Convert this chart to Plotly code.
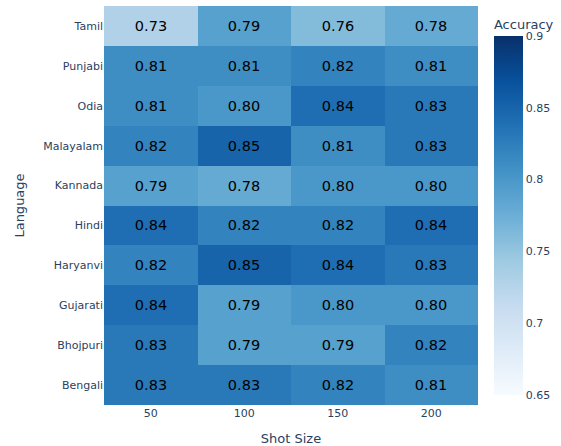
import plotly.graph_objects as go

shot_sizes = ["50", "100", "150", "200"]
languages = ["Bengali", "Bhojpuri", "Gujarati", "Haryanvi", "Hindi",
             "Kannada", "Malayalam", "Odia", "Punjabi", "Tamil"]
accuracy = [
    [0.83, 0.83, 0.82, 0.81],  # Bengali
    [0.83, 0.79, 0.79, 0.82],  # Bhojpuri
    [0.84, 0.79, 0.80, 0.80],  # Gujarati
    [0.82, 0.85, 0.84, 0.83],  # Haryanvi
    [0.84, 0.82, 0.82, 0.84],  # Hindi
    [0.79, 0.78, 0.80, 0.80],  # Kannada
    [0.82, 0.85, 0.81, 0.83],  # Malayalam
    [0.81, 0.80, 0.84, 0.83],  # Odia
    [0.81, 0.81, 0.82, 0.81],  # Punjabi
    [0.73, 0.79, 0.76, 0.78],  # Tamil
]

fig = go.Figure(go.Heatmap(
    z=accuracy, x=shot_sizes, y=languages,
    colorscale="Blues", zmin=0.65, zmax=0.9,
    texttemplate="%{z:.2f}", textfont=dict(size=14.5, color="black"),
    colorbar=dict(title=dict(text="Accuracy", font=dict(size=13)),
                  thickness=29, tickfont=dict(size=11),
                  x=1.04, xanchor="left", xpad=1),
))
fig.update_layout(
    width=561, height=446,
    margin=dict(l=104, r=81, t=6, b=41),
    font=dict(family="DejaVu Sans, Verdana, sans-serif", color="#2a3f5f", size=11),
    plot_bgcolor="white", paper_bgcolor="white",
    xaxis=dict(title=dict(text="Shot Size", font=dict(size=13)), type="category",
               automargin=False, tickfont=dict(size=11)),
    yaxis=dict(title=dict(text="Language", font=dict(size=13)), type="category",
               automargin=False, tickfont=dict(size=11)),
)
fig.write_html("out.html", config={"displayModeBar": False},
               post_script="document.body.style.margin='0';document.body.style.overflow='hidden';")
